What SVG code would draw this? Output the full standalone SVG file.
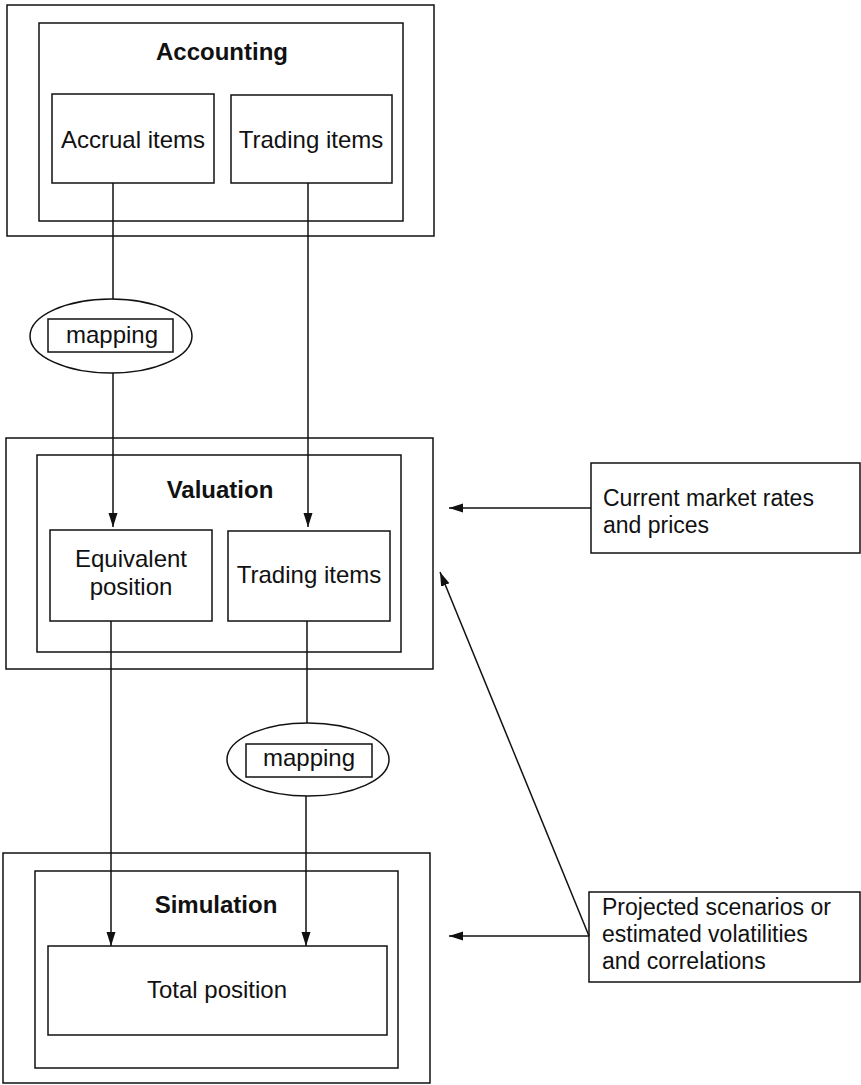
<svg xmlns="http://www.w3.org/2000/svg" width="861" height="1085" viewBox="0 0 861 1085">
<style>
.b{fill:none;stroke:#111;stroke-width:1.5}
.l{fill:none;stroke:#111;stroke-width:1.5}
.t{font-family:"Liberation Sans",Arial,sans-serif;font-size:24px;fill:#111}
.s{font-size:23px}
.c{text-anchor:middle}
.h{font-weight:bold}
</style>
<defs>
<marker id="ah" markerUnits="userSpaceOnUse" markerWidth="15" markerHeight="10" refX="14" refY="4.5" orient="auto">
<path d="M0,0 L14,4.5 L0,9 z" fill="#111"/>
</marker>
</defs>
<rect width="861" height="1085" fill="#fff"/>
<g id="accounting">
<rect class="b" x="7" y="5" width="427" height="231"/>
<rect class="b" x="39" y="23" width="364" height="198"/>
<text class="t c h" x="222" y="60">Accounting</text>
</g>
<g id="accrual-items">
<rect class="b" x="52" y="94" width="162" height="89"/>
<text class="t c" x="133" y="148">Accrual items</text>
</g>
<g id="trading-items-1">
<rect class="b" x="231" y="95" width="161" height="88"/>
<text class="t c" x="311" y="148">Trading items</text>
</g>
<g id="mapping-1">
<ellipse class="b" cx="111" cy="336" rx="81" ry="37"/>
<rect class="b" x="48" y="319" width="125" height="33"/>
<text class="t c" x="112" y="343">mapping</text>
</g>
<g id="valuation">
<rect class="b" x="6" y="438" width="427" height="231"/>
<rect class="b" x="37" y="455" width="364" height="197"/>
<text class="t c h" x="220" y="498">Valuation</text>
</g>
<g id="equivalent-position">
<rect class="b" x="50" y="530" width="162" height="91"/>
<text class="t c" x="131" y="567">Equivalent</text>
<text class="t c" x="131" y="595">position</text>
</g>
<g id="trading-items-2">
<rect class="b" x="228" y="531" width="162" height="90"/>
<text class="t c" x="309" y="583">Trading items</text>
</g>
<g id="mapping-2">
<ellipse class="b" cx="308" cy="759.5" rx="81" ry="36.5"/>
<rect class="b" x="246" y="744" width="126" height="33"/>
<text class="t c" x="309" y="766">mapping</text>
</g>
<g id="simulation">
<rect class="b" x="3" y="853" width="427" height="230"/>
<rect class="b" x="35" y="871" width="363" height="197"/>
<text class="t c h" x="216" y="913">Simulation</text>
</g>
<g id="total-position">
<rect class="b" x="48" y="946" width="339" height="89"/>
<text class="t c" x="217" y="998">Total position</text>
</g>
<g id="current-market">
<rect class="b" x="591" y="463" width="269" height="90"/>
<text class="t s" x="603" y="506">Current market rates</text>
<text class="t s" x="603" y="533">and prices</text>
</g>
<g id="projected-scenarios">
<rect class="b" x="589" y="892" width="271" height="90"/>
<text class="t s" x="602" y="915">Projected scenarios or</text>
<text class="t s" x="602" y="942">estimated volatilities</text>
<text class="t s" x="602" y="969">and correlations</text>
</g>
<g id="connectors">
<path class="l" d="M113,183 V299"/>
<path class="l" d="M113,373 V527" marker-end="url(#ah)"/>
<path class="l" d="M308,183 V527" marker-end="url(#ah)"/>
<path class="l" d="M307,621 V723"/>
<path class="l" d="M306,796 V946" marker-end="url(#ah)"/>
<path class="l" d="M111,621 V946" marker-end="url(#ah)"/>
<path class="l" d="M591,508 H449" marker-end="url(#ah)"/>
<path class="l" d="M589,936 H449" marker-end="url(#ah)"/>
<path class="l" d="M589,936 L440,572" marker-end="url(#ah)"/>
</g>
</svg>
